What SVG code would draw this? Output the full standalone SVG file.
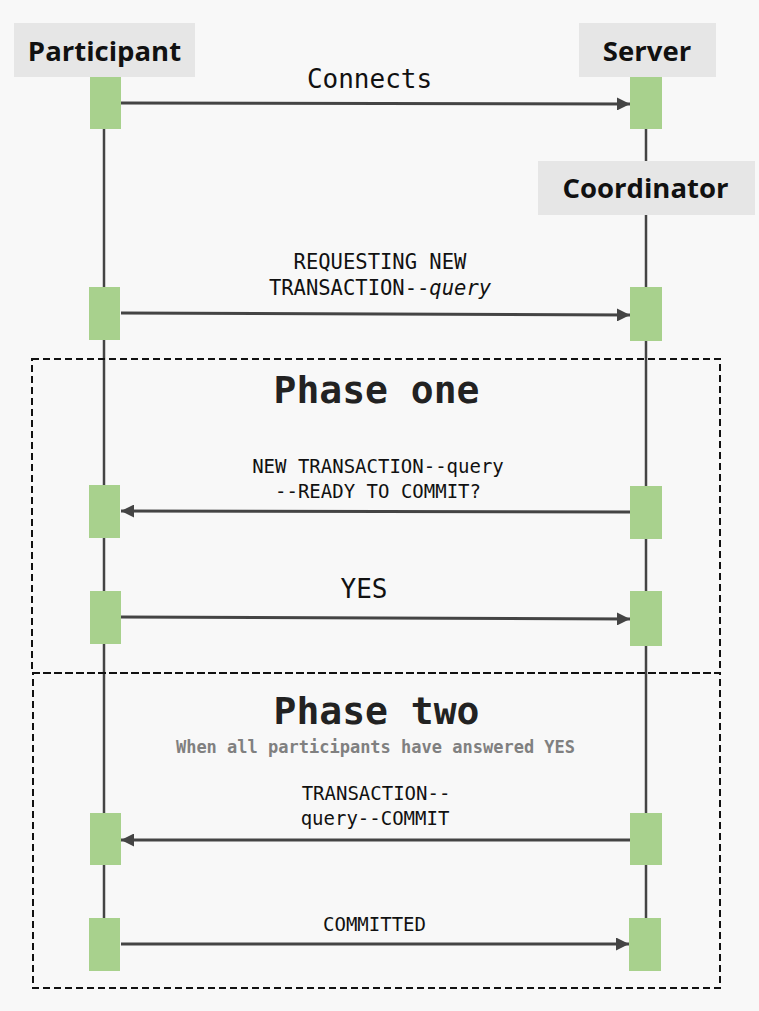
<svg xmlns="http://www.w3.org/2000/svg" width="759" height="1011" viewBox="0 0 759 1011">
  <defs>
    <marker id="ah" markerUnits="userSpaceOnUse" markerWidth="13" markerHeight="13" viewBox="0 0 13 13" refX="13" refY="6.5" orient="auto">
      <path d="M0,0 L13,6.5 L0,13 Z" fill="#444"/>
    </marker>
  </defs>
  <style>
    .hdr{fill:#e6e6e6}
    .hdrt{font-family:"Open Sans","Noto Sans","DejaVu Sans",sans-serif;font-weight:700;font-size:27.5px;fill:#111;text-anchor:middle}
    .bar{fill:#a8d18d}
    .life{stroke:#444;stroke-width:2.5;fill:none}
    .msg{stroke:#444;stroke-width:3;fill:none;marker-end:url(#ah)}
    .lbl{font-family:"DejaVu Sans Mono","Liberation Mono",monospace;font-size:19px;fill:#111;text-anchor:middle}
    .big{font-size:26px}
    .frame{fill:none;stroke:#111;stroke-width:2;stroke-dasharray:7 4}
    .ptitle{font-family:"DejaVu Sans Mono","Liberation Mono",monospace;font-weight:700;font-size:38px;fill:#222;text-anchor:middle}
    .psub{font-family:"DejaVu Sans Mono","Liberation Mono",monospace;font-weight:700;font-size:17px;fill:#808080;text-anchor:middle}
  </style>
  <rect width="759" height="1011" fill="#f8f8f8"/>

  <g id="lifelines">
    <line class="life" x1="104" y1="129" x2="104" y2="918"/>
    <line class="life" x1="646" y1="129" x2="646" y2="161"/>
    <line class="life" x1="646" y1="215" x2="646" y2="918"/>
  </g>

  <g id="phase-one">
    <rect class="frame" x="32" y="359" width="688" height="314"/>
    <text class="ptitle" x="376.5" y="403">Phase one</text>
  </g>
  <g id="phase-two">
    <rect class="frame" x="33" y="673" width="687" height="315"/>
    <text class="ptitle" x="376.5" y="724">Phase two</text>
    <text class="psub" x="375.5" y="753">When all participants have answered YES</text>
  </g>

  <g id="participant">
    <rect class="hdr" x="14" y="23" width="181" height="54"/>
    <text class="hdrt" x="104.5" y="61">Participant</text>
  </g>
  <g id="server">
    <rect class="hdr" x="579" y="23" width="137" height="54"/>
    <text class="hdrt" x="647" y="61">Server</text>
  </g>
  <g id="coordinator">
    <rect class="hdr" x="538" y="161" width="217" height="54"/>
    <text class="hdrt" x="645.5" y="198">Coordinator</text>
  </g>

  <g id="participant-activations">
    <rect class="bar" x="90" y="77" width="31" height="52"/>
    <rect class="bar" x="89" y="287" width="31" height="53"/>
    <rect class="bar" x="89" y="485" width="31" height="53"/>
    <rect class="bar" x="90" y="591" width="31" height="53"/>
    <rect class="bar" x="90" y="813" width="31" height="52"/>
    <rect class="bar" x="89" y="918" width="31" height="53"/>
  </g>
  <g id="server-activations">
    <rect class="bar" x="630" y="77" width="32" height="52"/>
    <rect class="bar" x="630" y="287" width="32" height="54"/>
    <rect class="bar" x="630" y="486" width="32" height="53"/>
    <rect class="bar" x="630" y="591" width="32" height="55"/>
    <rect class="bar" x="630" y="813" width="32" height="52"/>
    <rect class="bar" x="629" y="918" width="32" height="53"/>
  </g>

  <g id="connectors">
    <line class="msg" x1="121" y1="103" x2="630" y2="104"/>
    <line class="msg" x1="121" y1="313" x2="630" y2="315"/>
    <line class="msg" x1="630" y1="512" x2="121" y2="511"/>
    <line class="msg" x1="121" y1="617" x2="630" y2="619"/>
    <line class="msg" x1="630" y1="840" x2="121" y2="840"/>
    <line class="msg" x1="121" y1="944" x2="629" y2="944"/>
  </g>

  <g id="labels">
    <text class="lbl big" x="369.5" y="88">Connects</text>
    <text class="lbl" x="380" y="269" style="font-size:20.5px">REQUESTING NEW</text>
    <text class="lbl" x="380" y="295" style="font-size:20.5px">TRANSACTION--<tspan font-style="italic">query</tspan></text>
    <text class="lbl" x="378" y="473">NEW TRANSACTION--query</text>
    <text class="lbl" x="378" y="498">--READY TO COMMIT?</text>
    <text class="lbl big" x="364" y="598">YES</text>
    <text class="lbl" x="376" y="800">TRANSACTION--</text>
    <text class="lbl" x="375" y="825">query--COMMIT</text>
    <text class="lbl" x="374.5" y="931">COMMITTED</text>
  </g>
</svg>
